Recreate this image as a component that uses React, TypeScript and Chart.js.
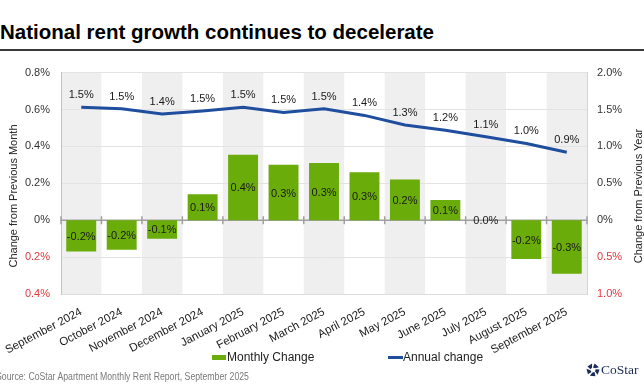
import React, { useEffect, useRef } from "react";
import { Chart, registerables } from "chart.js";

Chart.register(...registerables);

const categories = [
  "September 2024", "October 2024", "November 2024", "December 2024",
  "January 2025", "February 2025", "March 2025", "April 2025", "May 2025",
  "June 2025", "July 2025", "August 2025", "September 2025",
];
const monthlyChange = [-0.17, -0.16, -0.1, 0.14, 0.355, 0.3, 0.31, 0.26, 0.22, 0.11, 0.0, -0.21, -0.29];
const annualChange = [1.53, 1.51, 1.44, 1.48, 1.53, 1.46, 1.51, 1.42, 1.29, 1.22, 1.13, 1.04, 0.92];
const leftTicks = { min: -0.4, max: 0.8, step: 0.2 };
const rightTicks = { min: -1.0, max: 2.0, step: 0.5 };

const FONT = "'Liberation Sans', Arial, sans-serif";
const GREEN = "#6aad0a";
const BLUE = "#1f4e9e";
const RED = "#e0393e";
const BAND = "#efefef";

const bandsPlugin = {
  id: "bands",
  beforeDraw(chart: any) {
    const { ctx, chartArea } = chart;
    const x = chart.scales.x;
    const n = categories.length;
    const w = (chartArea.right - chartArea.left) / n;
    ctx.save();
    ctx.fillStyle = BAND;
    for (let i = 0; i < n; i += 2) {
      const cx = x.getPixelForValue(i);
      ctx.fillRect(cx - w / 2, chartArea.top, w, chartArea.bottom - chartArea.top);
    }
    ctx.restore();
  },
};

const zeroLinePlugin = {
  id: "zeroLine",
  beforeDatasetsDraw(chart: any) {
    const { ctx, chartArea } = chart;
    const y0 = chart.scales.y.getPixelForValue(0);
    const x = chart.scales.x;
    const n = categories.length;
    const w = (chartArea.right - chartArea.left) / n;
    ctx.save();
    ctx.strokeStyle = "#a0a0a0";
    ctx.lineWidth = 1.5;
    ctx.beginPath();
    ctx.moveTo(chartArea.left, y0);
    ctx.lineTo(chartArea.right, y0);
    for (let i = 0; i <= n; i++) {
      const bx = i < n ? x.getPixelForValue(i) - w / 2 : x.getPixelForValue(n - 1) + w / 2;
      ctx.moveTo(bx, y0 - 4);
      ctx.lineTo(bx, y0 + 4);
    }
    ctx.stroke();
    ctx.restore();
  },
};

const labelsPlugin = {
  id: "valueLabels",
  afterDatasetsDraw(chart: any) {
    const { ctx } = chart;
    ctx.save();
    ctx.font = `11px ${FONT}`;
    ctx.fillStyle = "#1a1a1a";
    ctx.textAlign = "center";
    ctx.textBaseline = "middle";
    const barMeta = chart.getDatasetMeta(0);
    barMeta.data.forEach((el: any, i: number) => {
      ctx.fillText(`${monthlyChange[i].toFixed(1)}%`, el.x, (el.y + el.base) / 2 + 1);
    });
    const lineMeta = chart.getDatasetMeta(1);
    lineMeta.data.forEach((el: any, i: number) => {
      ctx.fillText(`${annualChange[i].toFixed(1)}%`, el.x, el.y - 12);
    });
    ctx.restore();
  },
};

const fmt = (v: number) => (Math.abs(v) < 1e-9 ? "0%" : `${Math.abs(v).toFixed(1)}%`);

function CoStarLogo() {
  const pieces: string[] = [];
  for (let k = 0; k < 5; k++) {
    const a0 = ((k * 72 - 90) * Math.PI) / 180;
    const a1 = a0 + (50 * Math.PI) / 180;
    const r0 = 2.6, r1 = 6.6;
    const p = [
      [r0 * Math.cos(a0), r0 * Math.sin(a0)],
      [r1 * Math.cos(a0 + 0.25), r1 * Math.sin(a0 + 0.25)],
      [r1 * Math.cos(a1 + 0.25), r1 * Math.sin(a1 + 0.25)],
      [r0 * Math.cos(a1), r0 * Math.sin(a1)],
    ];
    pieces.push(p.map((q) => `${(q[0] + 7).toFixed(2)},${(q[1] + 7).toFixed(2)}`).join(" "));
  }
  return (
    <div style={{ position: "absolute", left: 586, top: 362, display: "flex", alignItems: "center" }}>
      <svg width={14} height={14} viewBox="0 0 14 14">
        {pieces.map((pts, i) => (
          <polygon key={i} points={pts} fill="#1b2d57" />
        ))}
      </svg>
      <span style={{ fontFamily: "'Liberation Serif', 'DejaVu Serif', serif", fontSize: 13.5, color: "#1b2d57", marginLeft: 1 }}>
        CoStar
      </span>
    </div>
  );
}

export default function App() {
  const canvasRef = useRef<HTMLCanvasElement | null>(null);

  useEffect(() => {
    document.body.style.margin = "0";
    const canvas = canvasRef.current;
    if (!canvas) return;
    const chart = new Chart(canvas, {
      type: "bar",
      data: {
        labels: categories,
        datasets: [
          {
            type: "bar",
            label: "Monthly Change",
            data: monthlyChange,
            backgroundColor: GREEN,
            yAxisID: "y",
            barPercentage: 0.74,
            categoryPercentage: 1,
            order: 1,
          },
          {
            type: "line",
            label: "Annual change",
            data: annualChange,
            borderColor: BLUE,
            borderWidth: 3,
            pointRadius: 0,
            tension: 0,
            yAxisID: "y1",
            order: 0,
          } as any,
        ],
      },
      options: {
        animation: false,
        responsive: false,
        maintainAspectRatio: false,
        layout: { padding: { top: 15, left: 0, right: 0, bottom: 0 } },
        plugins: {
          legend: { display: false },
          tooltip: { enabled: false },
        },
        scales: {
          x: {
            grid: { display: false },
            border: { display: true, color: "#dcdcdc" },
            ticks: {
              autoSkip: false,
              maxRotation: 28,
              minRotation: 28,
              padding: 3,
              color: "#1a1a1a",
              font: { family: FONT, size: 11.5 },
            },
            afterFit: (s: any) => {
              s.height = 61;
            },
          },
          y: {
            position: "left",
            min: leftTicks.min,
            max: leftTicks.max,
            grid: { color: "#e3e3e3", drawTicks: false },
            border: { display: true, color: "#c4c4c4" },
            ticks: {
              stepSize: leftTicks.step,
              padding: 11,
              font: { family: FONT, size: 11 },
              color: (c: any) => (c.tick && c.tick.value < -1e-9 ? RED : "#333"),
              callback: (v: any) => fmt(Number(v)),
            },
            afterFit: (s: any) => {
              s.width = 61;
            },
          },
          y1: {
            position: "right",
            min: rightTicks.min,
            max: rightTicks.max,
            grid: { drawOnChartArea: false, drawTicks: false },
            border: { display: true, color: "#d4d4d4" },
            ticks: {
              stepSize: rightTicks.step,
              padding: 10,
              font: { family: FONT, size: 11 },
              color: (c: any) => (c.tick && c.tick.value < -1e-9 ? RED : "#333"),
              callback: (v: any) => fmt(Number(v)),
            },
            afterFit: (s: any) => {
              s.width = 57;
            },
          },
        },
      },
      plugins: [bandsPlugin, zeroLinePlugin, labelsPlugin],
    });
    return () => chart.destroy();
  }, []);

  const axisTitle = (cx: number): React.CSSProperties => ({
    position: "absolute",
    left: cx - 100,
    top: 196 - 7,
    width: 200,
    height: 14,
    lineHeight: "14px",
    textAlign: "center",
    transform: "rotate(-90deg)",
    fontFamily: FONT,
    fontSize: 11,
    color: "#222",
    whiteSpace: "nowrap",
  });

  return (
    <div style={{ position: "fixed", left: 0, top: 0, width: 644, height: 392, background: "#fff", overflow: "hidden", fontFamily: FONT }}>
      <div style={{ position: "absolute", left: 0, top: 22, fontSize: 20.5, lineHeight: "20px", fontWeight: "bold", color: "#000", whiteSpace: "nowrap" }}>
        National rent growth continues to decelerate
      </div>
      <div style={{ position: "absolute", left: 0, top: 49, width: 644, height: 2, background: "#3a3a3a" }} />
      <canvas ref={canvasRef} width={644} height={300} style={{ position: "absolute", left: 0, top: 55, width: 644, height: 300 }} />
      <div style={axisTitle(13)}>Change from Previous Month</div>
      <div style={axisTitle(638)}>Change from Previous Year</div>
      <div style={{ position: "absolute", left: 212, top: 355, width: 14, height: 5, background: GREEN }} />
      <div style={{ position: "absolute", left: 227, top: 350, fontSize: 12, lineHeight: "14px", color: "#222", whiteSpace: "nowrap" }}>Monthly Change</div>
      <div style={{ position: "absolute", left: 388, top: 356, width: 15, height: 3, background: BLUE }} />
      <div style={{ position: "absolute", left: 403, top: 350, fontSize: 12, lineHeight: "14px", color: "#222", whiteSpace: "nowrap" }}>Annual change</div>
      <div style={{ position: "absolute", left: -4, top: 371, fontSize: 10, lineHeight: "12px", color: "#7a7a7a", whiteSpace: "nowrap", transform: "scaleX(0.87)", transformOrigin: "left center" }}>
        Source: CoStar Apartment Monthly Rent Report, September 2025
      </div>
      <CoStarLogo />
    </div>
  );
}
